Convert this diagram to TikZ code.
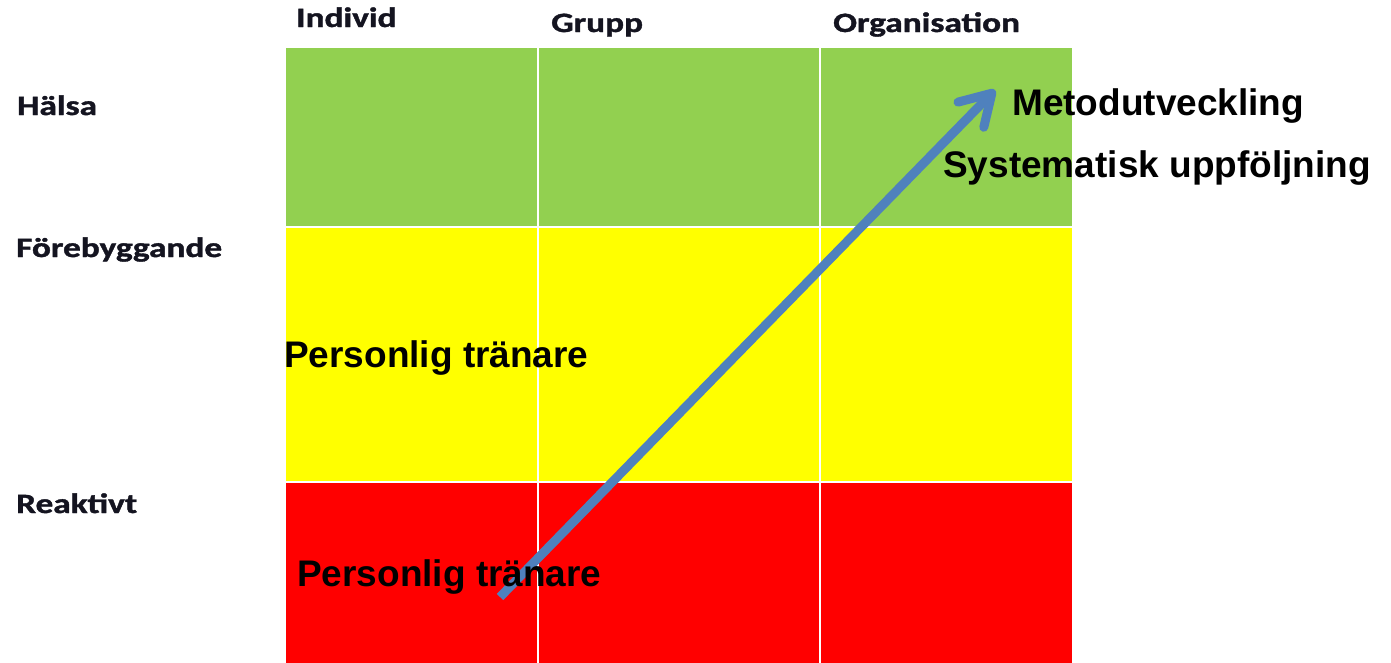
\documentclass[tikz,border=0pt]{standalone}
\usepackage{fontspec}
\newfontfamily\calib{Carlito}[FakeBold=1.2]
\newfontfamily\arialf{Liberation Sans}
\usetikzlibrary{arrows.meta}
\definecolor{cgreen}{HTML}{92D050}
\definecolor{cyellow}{HTML}{FFFF00}
\definecolor{cred}{HTML}{FF0000}
\definecolor{cblue}{HTML}{4F81BD}
\definecolor{hdrtext}{HTML}{141420}
\tikzset{
  cell/.style={draw=white, line width=2pt, inner sep=0pt, outer sep=0pt},
  hdr/.style={anchor=base west, inner sep=0pt, font=\calib\bfseries\fontsize{28}{30}\selectfont, text=hdrtext},
  big/.style={anchor=base west, inner sep=0pt, font=\arialf\bfseries\fontsize{37}{40}\selectfont},
  flow/.style={draw=cblue, line width=9pt, -{Straight Barb[length=30pt,width=36pt,line cap=round,line join=round]}}
}
\newcommand{\wide}[1]{\scalebox{1.26}[1]{#1}}
\begin{document}
\begin{tikzpicture}[x=1pt,y=-1pt]
\useasboundingbox (0,0) rectangle (1391,662);
\clip (0,0) rectangle (1391,662);
% cells
\path[cell,fill=cgreen] (285,47) rectangle (538,226.5);
\path[cell,fill=cgreen] (538,47) rectangle (820,226.5);
\path[cell,fill=cgreen] (820,47) rectangle (1073,226.5);
\path[cell,fill=cyellow] (285,226.5) rectangle (538,481.5);
\path[cell,fill=cyellow] (538,226.5) rectangle (820,481.5);
\path[cell,fill=cyellow] (820,226.5) rectangle (1073,481.5);
\path[cell,fill=cred] (285,481.5) rectangle (538,680);
\path[cell,fill=cred] (538,481.5) rectangle (820,680);
\path[cell,fill=cred] (820,481.5) rectangle (1073,680);
% headers
\node[hdr] (individ) at (296,27) {\wide{Individ}};
\node[hdr] (grupp) at (551,32) {\wide{Grupp}};
\node[hdr] (org) at (833,32) {\wide{Organisation}};
\node[hdr] (halsa) at (17,115) {\wide{Hälsa}};
\node[hdr] (fore) at (16,257) {\wide{Förebyggande}};
\node[hdr] (reakt) at (16,513) {\wide{Reaktivt}};
% arrow
\coordinate (start) at (500,597);
\coordinate (tip) at (995,90);
\draw[flow] (start) -- (tip);
% big labels
\node[big] (metod) at (1012,115) {Metodutveckling};
\node[big] (syst) at (943,177) {Systematisk uppföljning};
\node[big] (pt1) at (284,367) {Personlig tränare};
\node[big] (pt2) at (297,586) {Personlig tränare};
\end{tikzpicture}
\end{document}
